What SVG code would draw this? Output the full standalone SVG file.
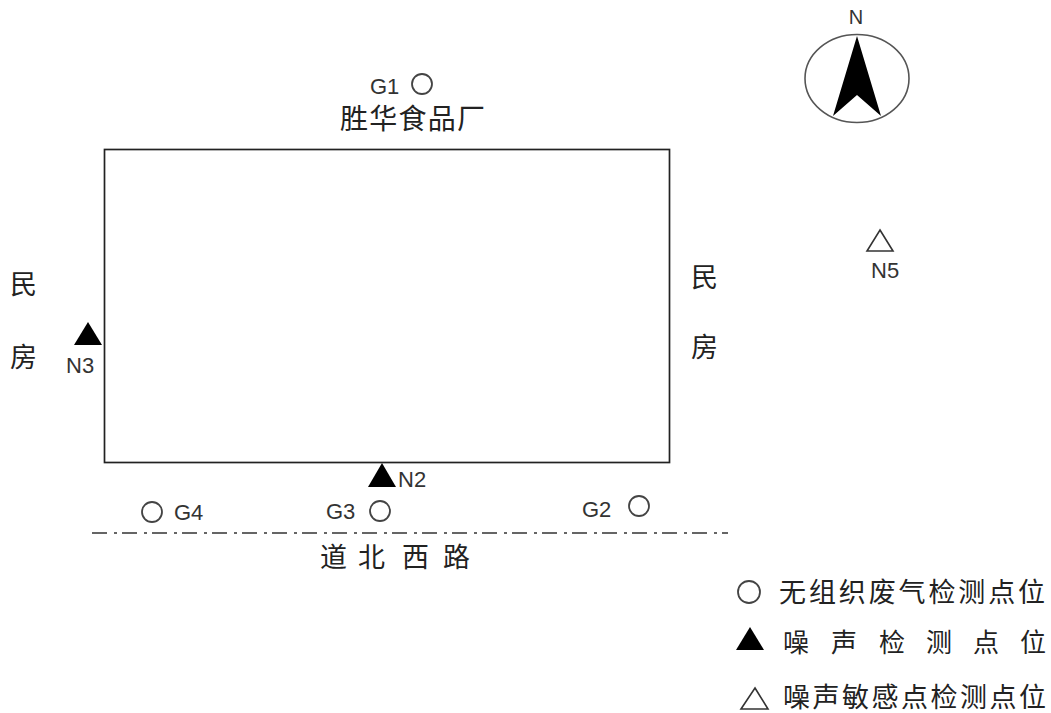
<svg xmlns="http://www.w3.org/2000/svg" width="1051" height="713" viewBox="0 0 1051 713">
<style>
text{font-family:"Noto Sans CJK SC","Liberation Sans",sans-serif;fill:#222}
.cn{font-size:27px}
.lb{font-size:22px;font-family:"Liberation Sans",sans-serif;fill:#333}
.lg{font-size:27px}
.o{fill:none;stroke:#444;stroke-width:1.8}
.k{fill:#000}
.w{fill:none;stroke:#333;stroke-width:1.6}
</style>
<rect width="1051" height="713" fill="#fff"/>
<g id="plant"><rect x="104.500" y="149.500" width="565" height="313" fill="none" stroke="#222" stroke-width="1.700"/>
<text class="cn" x="340" y="129" textLength="145" style="font-size:28px">胜华食品厂</text></g>
<g id="compass"><ellipse cx="857" cy="78.500" rx="52" ry="44" fill="none" stroke="#555" stroke-width="1.600"/>
<path class="k" d="M857 36L881 116L857 95L833 116Z"/>
<text x="856" y="24" text-anchor="middle" style="font-family:'Liberation Sans',sans-serif;font-size:20px;fill:#333">N</text></g>
<g id="G1"><circle class="o" cx="422" cy="84" r="10"/><text class="lb" x="370" y="94">G1</text></g>
<g id="G2"><circle class="o" cx="639" cy="506" r="10"/><text class="lb" x="582" y="517">G2</text></g>
<g id="G3"><circle class="o" cx="380" cy="511" r="10"/><text class="lb" x="326" y="519">G3</text></g>
<g id="G4"><circle class="o" cx="152" cy="512" r="10"/><text class="lb" x="174" y="520">G4</text></g>
<g id="N2"><path class="k" d="M382 463L396 487H368Z"/><text class="lb" x="398" y="487">N2</text></g>
<g id="N3"><path class="k" d="M88 322L102 345H74Z"/><text class="lb" x="66" y="373">N3</text></g>
<g id="N5"><path class="w" d="M880 230L893 251H867Z"/><text class="lb" x="871" y="278">N5</text></g>
<g id="west-houses"><text class="cn" x="10" y="294">民</text><text class="cn" x="10" y="367">房</text></g>
<g id="east-houses"><text class="cn" x="691" y="287">民</text><text class="cn" x="691" y="357">房</text></g>
<g id="connectors"><line x1="92" y1="533" x2="728" y2="533" stroke="#333" stroke-width="1.500" stroke-dasharray="15 7 3 5"/></g>
<g id="road"><text class="cn" x="320" y="567">道</text><text class="cn" x="358" y="567">北</text><text class="cn" x="402" y="567">西</text><text class="cn" x="443" y="567">路</text></g>
<g id="legend">
<circle class="o" cx="749" cy="592" r="11"/>
<text class="lg" x="779" y="602" textLength="266">无组织废气检测点位</text>
<path class="k" d="M750 627L764 650H736Z"/>
<text class="lg" style="font-size:26px" x="783" y="652">噪</text><text class="lg" style="font-size:26px" x="831" y="652">声</text><text class="lg" style="font-size:26px" x="879" y="652">检</text><text class="lg" style="font-size:26px" x="926" y="652">测</text><text class="lg" style="font-size:26px" x="973" y="652">点</text><text class="lg" style="font-size:26px" x="1020" y="652">位</text>
<path class="w" d="M755 688L768 709H741Z"/>
<text class="lg" x="783" y="707" textLength="263">噪声敏感点检测点位</text>
</g>
</svg>
